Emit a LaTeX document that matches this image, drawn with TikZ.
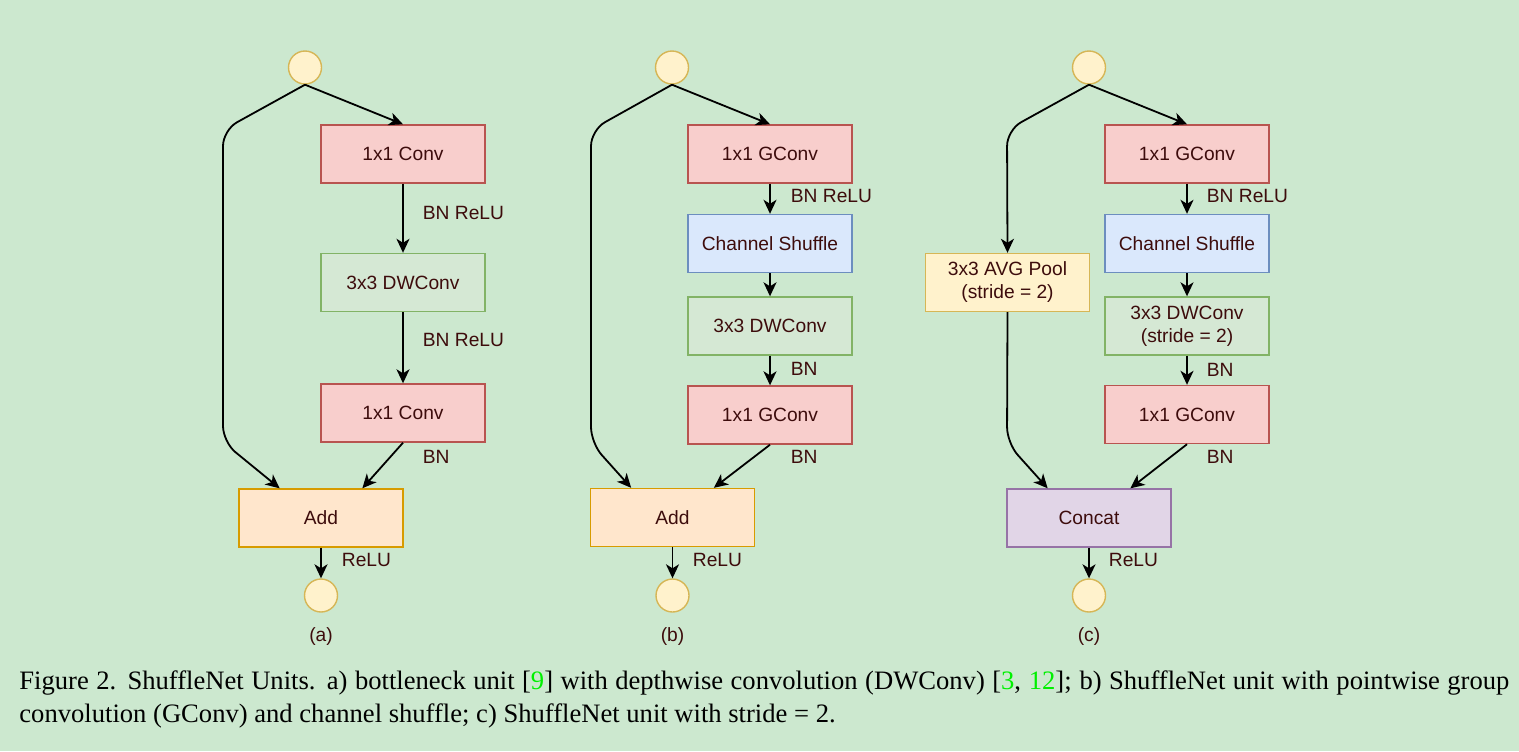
\documentclass[tikz,border=0pt]{standalone}
\usepackage{fontspec}
\setmainfont{Liberation Serif}
\newfontfamily\drawfont[Ligatures=NoCommon]{Liberation Sans}
\usetikzlibrary{arrows.meta,calc}

\definecolor{bgcol}{HTML}{CCE8CF}
\definecolor{txtcol}{HTML}{3D0C0C}
\definecolor{citegreen}{HTML}{00F000}
\definecolor{convfill}{HTML}{F8CECC}\definecolor{convline}{HTML}{B85450}
\definecolor{dwfill}{HTML}{D5E8D4}\definecolor{dwline}{HTML}{82B366}
\definecolor{shuffill}{HTML}{DAE8FC}\definecolor{shufline}{HTML}{6C8EBF}
\definecolor{addfill}{HTML}{FFE6CC}\definecolor{addline}{HTML}{D79B00}
\definecolor{poolfill}{HTML}{FFF2CC}\definecolor{poolline}{HTML}{D6B656}
\definecolor{catfill}{HTML}{E1D5E7}\definecolor{catline}{HTML}{9673A6}

\begin{document}
\begin{tikzpicture}[x=0.5pt, y=-0.5pt,
    box/.style={draw, line width=0.7pt, minimum width=82pt, minimum height=29pt, inner sep=1pt,
        align=center, text=txtcol, font=\drawfont\fontsize{9.6}{11.5}\selectfont},
    conv/.style={box, fill=convfill, draw=convline},
    dwc/.style={box, fill=dwfill, draw=dwline},
    shuf/.style={box, fill=shuffill, draw=shufline},
    add/.style={box, fill=addfill, draw=addline},
    pool/.style={box, fill=poolfill, draw=poolline},
    cat/.style={box, fill=catfill, draw=catline},
    io/.style={circle, draw=poolline, fill=poolfill, line width=0.7pt, minimum size=16.5pt, inner sep=0pt},
    lbl/.style={anchor=west, inner sep=0pt, text=txtcol, font=\drawfont\fontsize{9.6}{11.5}\selectfont},
    sub/.style={inner sep=0pt, text=txtcol, font=\drawfont\fontsize{9.6}{11.5}\selectfont},
    flow/.style={line width=0.9pt, -{Stealth[length=7pt, width=6.5pt, inset=2pt]}}]

    \fill[bgcol] (0,0) rectangle (1519,751);

    % (a)
    \node[io] (inA) at (305,67.5) {};
    \node[conv] (convA1) at (403,154) {1x1 Conv};
    \node[dwc] (dwA) at (403,282.5) {3x3 DWConv};
    \node[conv] (convA2) at (403,413) {1x1 Conv};
    \node[add] (addA) at (321,518) {Add};
    \node[io] (outA) at (321,595.5) {};
    \node[sub] (subA) at (321,637) {(a)};
    \coordinate (bendA1) at (223,130);
    \coordinate (bendA2) at (223,442);
    \draw[flow] (inA.south) -- (convA1.north);
    \draw[flow] (convA1) -- (dwA) node[lbl] (lblA1) at (422,213) {BN ReLU};
    \draw[flow] (dwA) -- (convA2) node[lbl] (lblA2) at (422,340) {BN ReLU};
    \draw[flow] (convA2.south) -- ($(addA.north west)!.75!(addA.north east)$) node[lbl] (lblA3) at (422,457) {BN};
    \draw[flow, rounded corners=8pt] (inA.south) -- (bendA1) -- (bendA2) -- ($(addA.north west)!.25!(addA.north east)$);
    \draw[flow] (addA) -- (outA) node[lbl] (lblA4) at (341,560) {ReLU};

    % (b)
    \node[io] (inB) at (672,67.5) {};
    \node[conv] (convB1) at (770,154) {1x1 GConv};
    \node[shuf] (shufB) at (770,243.5) {Channel Shuffle};
    \node[dwc] (dwB) at (770,326) {3x3 DWConv};
    \node[conv] (convB2) at (770,415) {1x1 GConv};
    \node[add] (addB) at (672.5,517.5) {Add};
    \node[io] (outB) at (672.5,595.5) {};
    \node[sub] (subB) at (672.5,637) {(b)};
    \coordinate (bendB1) at (591,130);
    \coordinate (bendB2) at (591,443);
    \draw[flow] (inB.south) -- (convB1.north);
    \draw[flow] (convB1) -- (shufB) node[lbl] (lblB1) at (790,196) {BN ReLU};
    \draw[flow] (shufB) -- (dwB);
    \draw[flow] (dwB) -- (convB2) node[lbl] (lblB2) at (790,369) {BN};
    \draw[flow] (convB2.south) -- ($(addB.north west)!.75!(addB.north east)$) node[lbl] (lblB3) at (790,457) {BN};
    \draw[flow, rounded corners=8pt] (inB.south) -- (bendB1) -- (bendB2) -- ($(addB.north west)!.25!(addB.north east)$);
    \draw[flow] (addB) -- (outB) node[lbl] (lblB4) at (692,560) {ReLU};

    % (c)
    \node[io] (inC) at (1089,67.5) {};
    \node[conv] (convC1) at (1187,154) {1x1 GConv};
    \node[shuf] (shufC) at (1187,243.5) {Channel Shuffle};
    \node[dwc] (dwC) at (1187,326) {3x3 DWConv\\(stride = 2)};
    \node[conv] (convC2) at (1187,414.5) {1x1 GConv};
    \node[pool] (poolC) at (1007.5,282.5) {3x3 AVG Pool\\(stride = 2)};
    \node[cat] (catC) at (1089,518) {Concat};
    \node[io] (outC) at (1089,595.5) {};
    \node[sub] (subC) at (1089,637) {(c)};
    \coordinate (bendC1) at (1007,130);
    \coordinate (bendC2) at (1007,443);
    \draw[flow] (inC.south) -- (convC1.north);
    \draw[flow] (convC1) -- (shufC) node[lbl] (lblC1) at (1206,196) {BN ReLU};
    \draw[flow] (shufC) -- (dwC);
    \draw[flow] (dwC) -- (convC2) node[lbl] (lblC2) at (1206,370) {BN};
    \draw[flow] (convC2.south) -- ($(catC.north west)!.75!(catC.north east)$) node[lbl] (lblC3) at (1206,457) {BN};
    \draw[flow, rounded corners=8pt] (inC.south) -- (bendC1) -- (poolC.north);
    \draw[flow, rounded corners=8pt] (poolC.south) -- (bendC2) -- ($(catC.north west)!.25!(catC.north east)$);
    \draw[flow] (catC) -- (outC) node[lbl] (lblC4) at (1108,560) {ReLU};

    \node[anchor=north west, inner sep=0pt, text width=745pt, align=justify,
        font=\fontsize{13.3}{16.5}\selectfont] (caption) at (19,670)
        {Figure 2. ShuffleNet Units. a) bottleneck unit [\textcolor{citegreen}{9}] with depthwise convolution (DWConv) [\textcolor{citegreen}{3}, \textcolor{citegreen}{12}]; b) ShuffleNet unit with pointwise group\linebreak convolution (GConv) and channel shuffle; c) ShuffleNet unit with stride = 2.};
\end{tikzpicture}
\end{document}
